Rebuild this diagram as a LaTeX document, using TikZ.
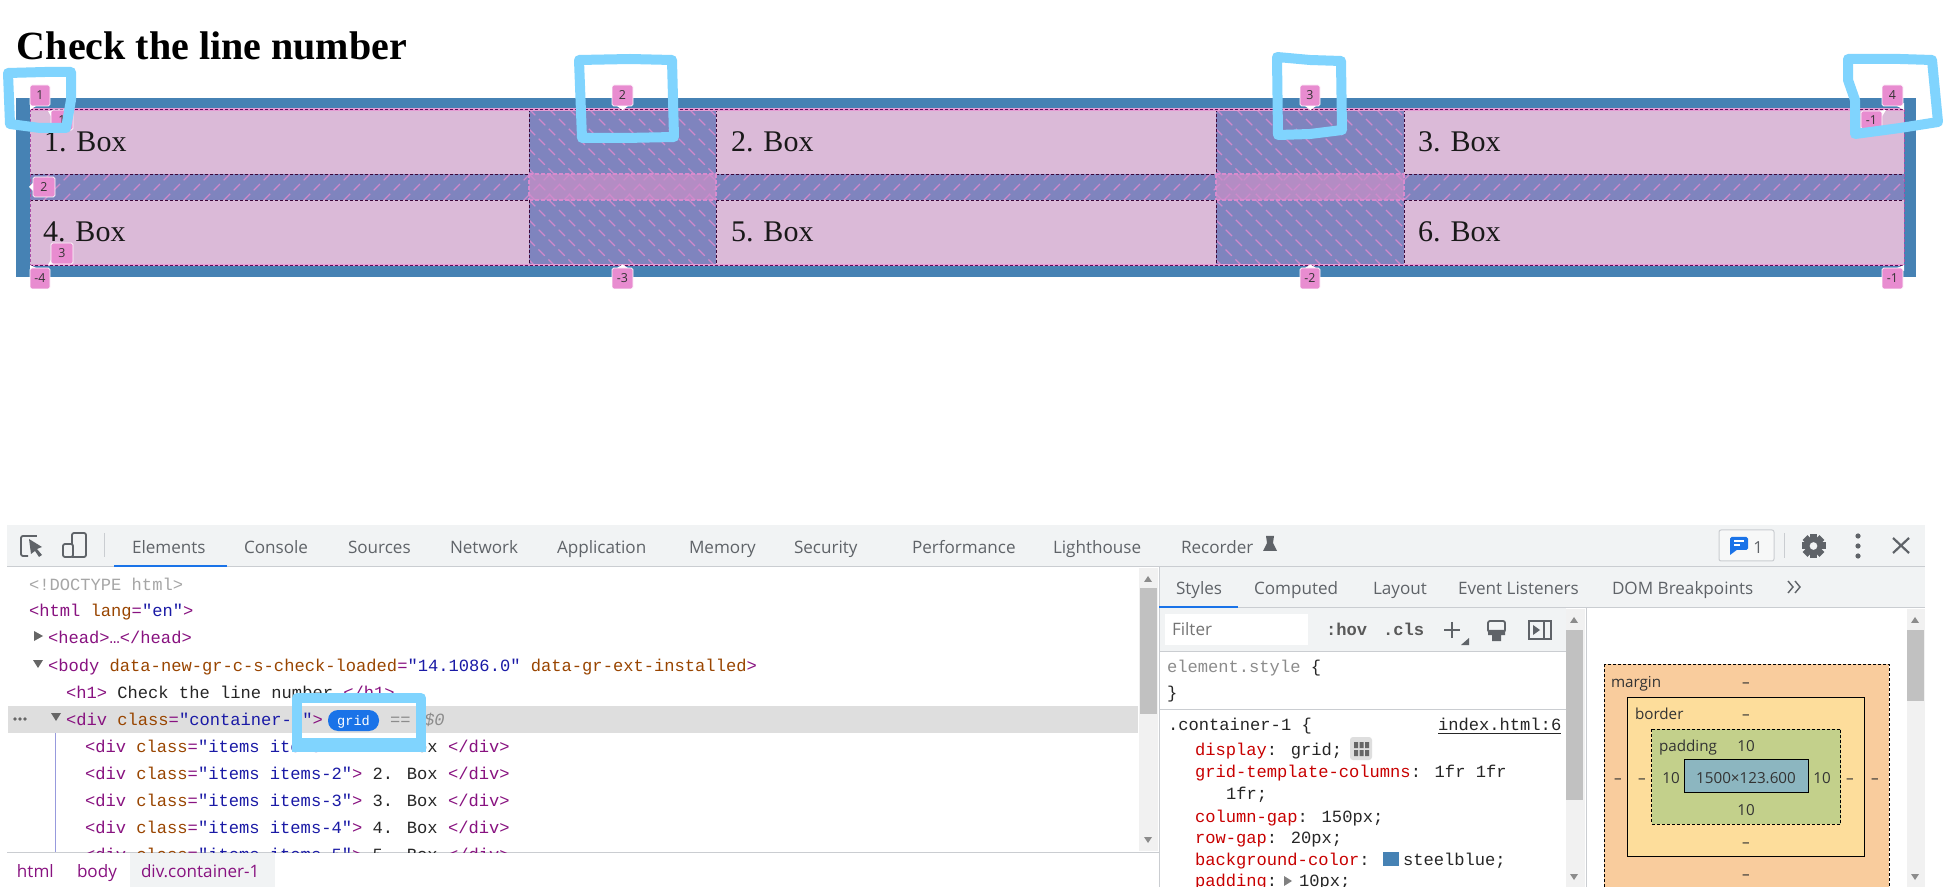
\documentclass[tikz,border=0pt]{standalone}
\usepackage{fontspec}
\setmainfont{Liberation Serif}
\newfontfamily\uifont{Open Sans}
\newfontfamily\monofnt{Liberation Mono}
\definecolor{steel}{HTML}{4682B4}
\definecolor{boxc}{HTML}{DBBAD8}
\definecolor{gapc}{HTML}{7F84BE}
\definecolor{crossc}{HTML}{B48CC4}
\definecolor{hatchc}{HTML}{CF8ACC}
\definecolor{tipc}{HTML}{E88CD0}
\definecolor{markc}{HTML}{80D4FE}
\definecolor{barc}{HTML}{F1F3F4}
\definecolor{linec}{HTML}{CACDD1}
\definecolor{txtc}{HTML}{5F6368}
\definecolor{tagc}{HTML}{881280}
\definecolor{attc}{HTML}{994500}
\definecolor{valc}{HTML}{1A1AA6}
\definecolor{propc}{HTML}{C80000}
\definecolor{blu}{HTML}{1A73E8}
\definecolor{thumb}{HTML}{C1C1C1}
\definecolor{track}{HTML}{F1F1F1}
\definecolor{mgc}{HTML}{F9CC9D}
\definecolor{bdc}{HTML}{FDDD9B}
\definecolor{pdc}{HTML}{C3D08B}
\definecolor{ctc}{HTML}{8CB6C0}
\newcommand{\tg}[1]{\textcolor{tagc}{#1}}
\newcommand{\at}[1]{\textcolor{attc}{#1}}
\newcommand{\va}[1]{\textcolor{valc}{#1}}
\newcommand{\pr}[1]{\textcolor{propc}{#1}}
\newcommand{\hatchdown}[4]{\begin{scope}\clip (#1,#2) rectangle (#3,#4);
 \foreach \k in {-6,...,14}{\draw[hatchline] ({#1+\k*20},#2) -- ++(130,130);}\end{scope}}
\newcommand{\hatchup}[4]{\begin{scope}\clip (#1,#2) rectangle (#3,#4);
 \pgfmathtruncatemacro{\nn}{(#3-#1)/20+3}
 \foreach \k in {0,...,\nn}{\draw[hatchline] ({#1+\k*20},#2) -- ++(-40,40);}\end{scope}}
\newcommand{\tip}[6]{\fill[tipc,rounded corners=.8pt] (#2,#3) rectangle (#4,#5);
 \draw[white,line width=.4pt,rounded corners=.8pt] (#2,#3) rectangle (#4,#5);
 \node[tiptext] (#1) at ({(#2+#4)/2},{(#3+#5)/2}) {#6};}
\tikzset{
 x=.5pt,y=-.5pt,
 tx/.style={anchor=base west,inner sep=0,outer sep=0},
 cx/.style={anchor=base,inner sep=0,outer sep=0},
 tab/.style={tx,font=\uifont\fontsize{8.55}{10}\selectfont,text=txtc},
 bxt/.style={tx,font=\fontsize{15}{18}\selectfont,text=black!90},
 dom/.style={tx,font=\monofnt\fontsize{8.56}{10}\selectfont,text=black!85},
 bm/.style={cx,font=\uifont\fontsize{7.6}{9}\selectfont,text=black!80},
 bml/.style={tx,font=\uifont\fontsize{7.6}{9}\selectfont,text=black!80},
 tiptext/.style={inner sep=0,outer sep=0,font=\uifont\fontsize{6.2}{7}\selectfont,text=black!80},
 hatchline/.style={hatchc,line width=.55pt,dash pattern=on 4.5pt off 2.5pt},
 griddash/.style={line width=.4pt,color=black!55!tagc,dash pattern=on 1.5pt off 1pt},
 pinkdash/.style={line width=.6pt,color=hatchc!60!tipc,dash pattern=on 2pt off 1pt},
 hl/.style={draw=markc,line width=5pt,line cap=round,line join=round},
 icon/.style={draw=txtc,line width=.9pt},
 sep/.style={linec,line width=.5pt},
}
\begin{document}
\begin{tikzpicture}
\useasboundingbox (0,0) rectangle (1945,887);
\fill[white] (0,0) rectangle (1945,887);
% ---- page
\node[tx,font=\bfseries\fontsize{20}{24}\selectfont] (title) at (17,60) {Check the line number};
\fill[steel] (16,98) rectangle (1916,277);
\fill[gapc] (30,109) rectangle (1904,265);
\fill[crossc] (529,174) rectangle (716,200);
\fill[crossc] (1216,174) rectangle (1404,200);
\hatchdown{529}{109}{716}{174}
\hatchdown{529}{200}{716}{265}
\hatchdown{1216}{109}{1404}{174}
\hatchdown{1216}{200}{1404}{265}
\hatchdown{529}{174}{716}{200}
\hatchdown{1216}{174}{1404}{200}
\hatchup{30}{174}{1904}{200}
\foreach \xa/\xb in {30/529,716/1216,1404/1904}{
 \fill[boxc] (\xa,109) rectangle (\xb,174);
 \fill[boxc] (\xa,200) rectangle (\xb,265);
 \draw[griddash] (\xa,174) -- (\xb,174);
 \draw[griddash] (\xa,200) -- (\xb,200);
}
\foreach \xa/\xb in {529/716,1216/1404}{
 \draw[pinkdash] (\xa,174) -- (\xb,174);
 \draw[pinkdash] (\xa,200) -- (\xb,200);
 \draw[pinkdash] (\xa,174) -- (\xa,200);
 \draw[pinkdash] (\xb,174) -- (\xb,200);
}
\foreach \xx in {529,716,1216,1404}{
 \draw[griddash] (\xx,109) -- (\xx,174);
 \draw[griddash] (\xx,200) -- (\xx,265);
}
\draw[tipc!70!boxc,line width=1.1pt] (30,109.5) -- (1904,109.5);
\draw[tipc!70!boxc,line width=1.1pt] (30,265) -- (1904,265);
\draw[griddash,color=tagc!70!black,line width=.4pt] (30,109.5) -- (1904,109.5);
\draw[griddash,color=tagc!70!black,line width=.4pt] (30,265) -- (1904,265);
\draw[griddash,color=tagc!50!hatchc] (30,109) -- (30,265);
\draw[griddash,color=tagc!50!hatchc] (1904,109) -- (1904,265);
\node[bxt] (b1) at (44,152) {1. Box};
\node[bxt] (b2) at (731,152) {2. Box};
\node[bxt] (b3) at (1418,152) {3. Box};
\node[bxt] (b4) at (43,242) {4. Box};
\node[bxt] (b5) at (731,242) {5. Box};
\node[bxt] (b6) at (1418,242) {6. Box};
% tooltips
\fill[white] (30,110) -- (30,103) -- (36,106) -- cycle;
\tip{t1}{30}{85}{50}{106}{1}
\fill[white] (617,106) -- (628,106) -- (622.5,110) -- cycle;
\tip{t2}{612}{85}{633}{106}{2}
\fill[white] (1305,106) -- (1316,106) -- (1310.5,110) -- cycle;
\tip{t3}{1300}{85}{1320}{106}{3}
\fill[white] (1904,110) -- (1904,103) -- (1897,106) -- cycle;
\tip{t4}{1882}{85}{1903}{106}{4}
\fill[white] (48,111) -- (55,111) -- (52,118) -- cycle;
\tip{r1}{51}{110}{73}{130}{1}
\fill[white] (1886,110) -- (1878,111) -- (1881,118) -- cycle;
\tip{rm1}{1861}{111}{1882}{129}{-1}
\fill[white] (29,187) -- (34,182) -- (34,192) -- cycle;
\tip{r2}{33}{177}{55}{197}{2}
\fill[white] (48,265) -- (55,264) -- (52,258) -- cycle;
\tip{r3}{51}{243}{73}{264}{3}
\fill[white] (30,265) -- (30,271) -- (36,268) -- cycle;
\tip{bm4}{30}{268}{50}{289}{-4}
\fill[white] (617,268) -- (628,268) -- (622.5,264.5) -- cycle;
\tip{bm3}{612}{268}{633}{289}{-3}
\fill[white] (1305,268) -- (1316,268) -- (1310.5,264.5) -- cycle;
\tip{bm2}{1300}{268}{1320}{289}{-2}
\fill[white] (1904,265) -- (1904,271) -- (1897,268) -- cycle;
\tip{bm1}{1882}{268}{1903}{289}{-1}
% ---- devtools frame
\fill[barc] (7,525) rectangle (1925,567);
\fill[barc] (1159,567) rectangle (1925,608);
\fill[barc] (1159,608) rectangle (1566,651);
\fill[white] (1165,614) rectangle (1308,645);
\draw[sep] (7,567) -- (1925,567);
\draw[sep] (1159,608) -- (1925,608);
\draw[sep] (1159,651) -- (1566,651);
\draw[sep] (1159,709) -- (1566,709);
\draw[sep] (1159,567) -- (1159,887);
\draw[sep] (1586,608) -- (1586,887);
\draw[sep] (7,852) -- (1159,852);
\fill[black!13] (8,706) rectangle (1138,733);
% scrollbars
\fill[track] (1139,568) rectangle (1158,851);
\fill[thumb] (1140,588) rectangle (1157,714);
\fill[track] (1566,609) rectangle (1585,887);
\fill[thumb] (1566,630) rectangle (1583,800);
\fill[track] (1907,609) rectangle (1925,887);
\fill[thumb] (1907,630) rectangle (1924,701);
\foreach \ax/\ay in {1148/579,1574/620,1915/620}{\fill[black!45] (\ax-4,\ay+3) -- (\ax+4,\ay+3) -- (\ax,\ay-3) -- cycle;}
\foreach \ax/\ay in {1148/840,1574/877,1915/877}{\fill[black!45] (\ax-4,\ay-3) -- (\ax+4,\ay-3) -- (\ax,\ay+3) -- cycle;}
% tabs
\node[tab] (tElem) at (132,553) {Elements};
\node[tab] (tCons) at (244,553) {Console};
\node[tab] (tSour) at (348,553) {Sources};
\node[tab] (tNetw) at (450,553) {Network};
\node[tab] (tAppl) at (557,553) {Application};
\node[tab] (tMemo) at (689,553) {Memory};
\node[tab] (tSecu) at (794,553) {Security};
\node[tab] (tPerf) at (912,553) {Performance};
\node[tab] (tLigh) at (1053,553) {Lighthouse};
\node[tab] (tReco) at (1181,553) {Recorder};
\fill[blu] (114,565) rectangle (227,567.5);
% toolbar icons
\draw[icon,rounded corners=1pt] (31,536) -- (21,536) -- (21,556) -- (28,556);
\draw[icon] (31,536) -- (37,536);
\fill[txtc] (29,539) -- (42,547) -- (37,549) -- (42,555) -- (39,557) -- (35,551) -- (31,554) -- cycle;
\draw[icon,rounded corners=1pt] (72,544) -- (72,533) -- (86,533) -- (86,557) -- (72,557);
\draw[icon,rounded corners=1pt] (63,544) rectangle (73,557);
\draw[sep] (104,533) -- (104,557);
\fill[txtc] (1266,536) -- (1274,536) -- (1273,543) -- (1277,551) -- (1263,551) -- (1267,543) -- cycle;
\draw[linec,rounded corners=1pt,line width=.5pt,fill=barc!60!white] (1719,530) rectangle (1774,561);
\fill[blu,rounded corners=.8pt] (1730,537) rectangle (1748,550);
\fill[blu] (1730,545) -- (1730,555) -- (1738,549) -- cycle;
\draw[white,line width=.6pt] (1734,541) -- (1744,541) (1734,545) -- (1740,545);
\node[cx,font=\uifont\fontsize{8.3}{10}\selectfont,text=txtc] (count) at (1758,554) {1};
\draw[sep] (1784,533) -- (1784,558);
\foreach \ang in {0,45,...,315}{\fill[txtc,rotate around={\ang:(1813.5,546)}] (1810,534) rectangle (1817,540);}
\fill[txtc,even odd rule] (1813.5,546) circle[radius=4.3pt] (1813.5,546) circle[radius=2pt];
\foreach \dy in {536,546,556}{\fill[txtc] (1858,\dy) circle[radius=1.3pt];}
\draw[txtc,line width=1.1pt] (1893,538) -- (1909,553) (1909,538) -- (1893,553);
% DOM tree
\node[dom,text=black!35] (l1) at (29,590) {<!DOCTYPE html>};
\node[dom] (l2) at (29,617) {\tg{<html} \at{lang}\tg{=}\va{"en"}\tg{>}};
\fill[black!60] (34,631) -- (43,636) -- (34,641) -- cycle;
\node[dom] (l3) at (48,644) {\tg{<head>…</head>}};
\fill[black!60] (33,660) -- (43,660) -- (38,668) -- cycle;
\node[dom] (l4) at (48,671) {\tg{<body} \at{data-new-gr-c-s-check-loaded}\tg{=}\va{"14.1086.0"} \at{data-gr-ext-installed}\tg{>}};
\node[dom] (l5) at (66,698) {\tg{<h1>} Check the line number \tg{</h1>}};
\fill[black!60] (20,719) circle[radius=.9pt] (15,719) circle[radius=.9pt] (25,719) circle[radius=.9pt];
\fill[black!60] (51,713) -- (61,713) -- (56,721) -- cycle;
\node[dom] (l6) at (66,725) {\tg{<div} \at{class}\tg{=}\va{"container-1"}\tg{>}};
\fill[blu,rounded corners=5pt] (328,710) rectangle (379,731);
\node[cx,font=\monofnt\fontsize{6.8}{8}\selectfont,text=white] (pill) at (353.5,725) {grid};
\node[dom,text=black!45] (eq) at (390,725) {==};
\node[dom,text=black!45,font=\monofnt\itshape\fontsize{8.56}{10}\selectfont] (d0) at (424,725) {\$0};
\draw[blue!25!linec,line width=.5pt] (55,733) -- (55,852);
\foreach \n/\yy in {1/752,2/779,3/806,4/833}{
 \node[dom] (it\n) at (85,\yy) {\tg{<div} \at{class}\tg{=}\va{"items items-\n"}\tg{>} \n. Box \tg{</div>}};
}
\begin{scope}
\clip (8,840) rectangle (1138,852);
\node[dom] (it5) at (85,860) {\tg{<div} \at{class}\tg{=}\va{"items items-5"}\tg{>} 5. Box \tg{</div>}};
\end{scope}
% breadcrumb
\fill[barc] (130,853) rectangle (275,887);
\node[tab,text=tagc] (bc1) at (17,877) {html};
\node[tab,text=tagc] (bc2) at (77,877) {body};
\node[tab,text=tagc] (bc3) at (141,877) {div.container-1};
% styles tabs
\node[tab] (sStyl) at (1176,595) {Styles};
\node[tab] (sComp) at (1254,595) {Computed};
\node[tab] (sLayo) at (1373,595) {Layout};
\node[tab] (sEven) at (1458,595) {Event Listeners};
\node[tab] (sDomb) at (1612,595) {DOM Breakpoints};
\fill[blu] (1159,606) rectangle (1238,608.5);
\draw[txtc,line width=.7pt] (1788,581) -- (1793,587) -- (1788,593) (1795,581) -- (1800,587) -- (1795,593);
\node[tab,text=black!55] (filt) at (1172,636) {Filter};
\node[dom,font=\monofnt\bfseries\fontsize{8.56}{10}\selectfont,text=black!65] (hov) at (1326,636) {:hov};
\node[dom,font=\monofnt\bfseries\fontsize{8.56}{10}\selectfont,text=black!65] (cls) at (1383,636) {.cls};
\draw[txtc,line width=.9pt] (1444,630) -- (1460,630) (1452,622) -- (1452,638);
\fill[txtc] (1461,645) -- (1469,645) -- (1469,638) -- cycle;
\draw[txtc,line width=.9pt,rounded corners=1pt] (1488,621) rectangle (1505,632);
\fill[txtc] (1488,630) rectangle (1505,635) (1492,635) rectangle (1501,641);
\draw[txtc,line width=.6pt] (1529,621) rectangle (1551,639) (1544,621) -- (1544,639);
\fill[txtc] (1533,625) -- (1540,630) -- (1533,635) -- cycle;
\node[dom,text=black!45] (es) at (1167,672) {element.style \textcolor{black!85}{\{}};
\node[dom] (es2) at (1167,698) {\}};
\node[dom] (c1) at (1168,730) {.container-1 \{};
\node[dom,text=black!85] (idx) at (1438,730) {\underline{index.html:6}};
\node[dom] (p1) at (1195,755) {\pr{display}: grid;};
\fill[black!13,rounded corners=1.5pt] (1350,737) rectangle (1372,760);
\foreach \gx in {1354,1359.5,1365}{\fill[black!60] (\gx,742) rectangle +(4,6) (\gx,750) rectangle +(4,6);}
\node[dom] (p2) at (1195,777) {\pr{grid-template-columns}: 1fr 1fr};
\node[dom] (p2b) at (1226,799) {1fr;};
\node[dom] (p3) at (1195,822) {\pr{column-gap}: 150px;};
\node[dom] (p4) at (1195,843) {\pr{row-gap}: 20px;};
\node[dom] (p5) at (1195,865) {\pr{background-color}:};
\fill[steel] (1383,852) rectangle (1399,866);
\node[dom] (p5b) at (1403,865) {steelblue;};
\node[dom] (p6) at (1195,886) {\pr{padding}:};
\fill[black!50] (1284,876) -- (1292,881) -- (1284,886) -- cycle;
\node[dom] (p6b) at (1299,886) {10px;};
% box model
\begin{scope}
\clip (1590,609) rectangle (1906,887);
\fill[mgc] (1604,664) rectangle (1889,900);
\draw[black,line width=.5pt,dash pattern=on 1.5pt off 1pt] (1604,664) rectangle (1889,900);
\end{scope}
\draw[black,line width=.5pt,fill=bdc] (1627,697) rectangle (1864,856);
\draw[black,line width=.5pt,dash pattern=on 1.5pt off 1pt,fill=pdc] (1651.5,729) rectangle (1840.5,824);
\draw[black,line width=.5pt,fill=ctc] (1684.5,759) rectangle (1808,792);
\node[bml] (mMar) at (1611,687) {margin};
\node[bml] (mBor) at (1635,719) {border};
\node[bml] (mPad) at (1659,751) {padding};
\node[bm] (d1) at (1746,687) {–};
\node[bm] (d2) at (1746,719) {–};
\node[bm] (v1) at (1746,751) {10};
\node[bm] (v2) at (1671,783) {10};
\node[bm] (v3) at (1746,783) {1500×123.600};
\node[bm] (v4) at (1822,783) {10};
\node[bm] (d3) at (1618,783) {–};
\node[bm] (d4) at (1642,783) {–};
\node[bm] (d5) at (1850,783) {–};
\node[bm] (d6) at (1875,783) {–};
\node[bm] (v5) at (1746,815) {10};
\node[bm] (d7) at (1746,847) {–};
\node[bm] (d8) at (1746,879) {–};
% hand-drawn highlights
\draw[hl] (8,73) -- (45,72) -- (71,72) -- (71,100) -- (66,128) -- (40,128) -- (10,124) -- (8,73);
\draw[hl] (579,60) -- (630,59) -- (672,60) -- (674,137) -- (625,138) -- (582,138) -- cycle;
\draw[hl] (1277,57) -- (1310,60) -- (1341,61) -- (1342,130) -- (1310,134) -- (1278,135) -- cycle;
\draw[hl] (1848,59) -- (1900,59) -- (1932,60) -- (1938,122) -- (1900,128) -- (1855,134) -- (1855,100) -- (1848,80) -- cycle;
\draw[hl,line cap=butt] (297,698) -- (421,698) -- (421,745) -- (297,745) -- cycle;
\fill[markc] (292,738) rectangle (426,752);
\end{tikzpicture}
\end{document}
